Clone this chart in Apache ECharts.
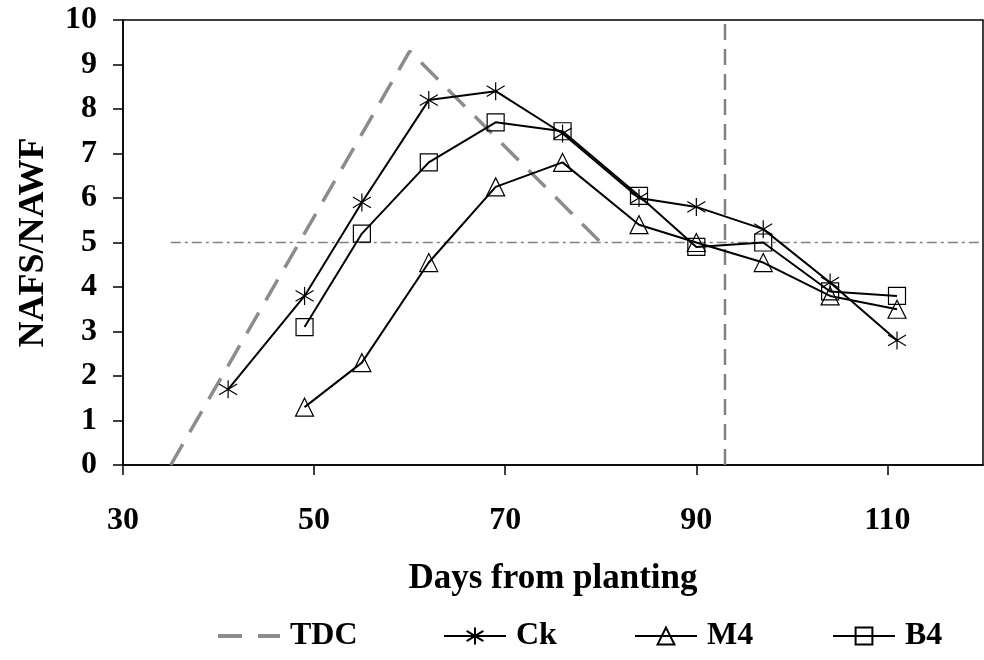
<!DOCTYPE html>
<html>
<head>
<meta charset="utf-8">
<script src="https://cdn.jsdelivr.net/npm/echarts@6/dist/echarts.min.js"></script>
<style>html,body{margin:0;padding:0;background:#fff}#c{width:984px;height:660px}</style>
</head>
<body>
<div id="c"></div>
<script>
// ---- data ----
const days = [41, 49, 55, 62, 69, 76, 84, 90, 97, 104, 111];
const ckValues = [1.7, 3.8, 5.9, 8.2, 8.4, 7.45, 6.0, 5.8, 5.3, 4.1, 2.8];
const treatDays = [49, 55, 62, 69, 76, 84, 90, 97, 104, 111];
const m4Values = [1.3, 2.3, 4.55, 6.25, 6.8, 5.4, 5.0, 4.55, 3.8, 3.5];
const b4Values = [3.1, 5.2, 6.8, 7.7, 7.5, 6.05, 4.9, 5.0, 3.9, 3.8];
const tdcDays = [35, 60, 80];
const tdcValues = [0, 9.3, 5];
const vRefDays = [93, 93];
const vRefValues = [0, 10];
const hRefDays = [35, 120];
const hRefValues = [5, 5];
const xTicks = [30, 50, 70, 90, 110];
const yTicks = [0, 1, 2, 3, 4, 5, 6, 7, 8, 9, 10];

const zip = (xs, ys) => xs.map((x, i) => [x, ys[i]]);
const FONT = "'Liberation Serif','Times New Roman',serif";
const starPath = 'path://M0,-10 L0,10 M-9,-6 L9,6 M-9,6 L9,-6';
const hollow = { color: 'rgba(255,255,255,0)', borderColor: '#000', borderWidth: 1.2 };
const dashIcon = 'path://M0,0 L24,0 L24,4 L0,4 Z M40,0 L62,0 L62,4 L40,4 Z';

const chart = echarts.init(document.getElementById('c'), null, { renderer: 'canvas' });
const legendBase = {
  orient: 'horizontal', top: 620, itemWidth: 62, itemHeight: 21, itemGap: 0, padding: 0,
  lineStyle: { width: 2 },
  textStyle: { fontFamily: FONT, fontWeight: 'bold', fontSize: 32, color: '#000', padding: [0, 0, 0, 5] }
};
chart.setOption({
  animation: false,
  backgroundColor: '#fff',
  grid: { left: 123, top: 20, right: 1, bottom: 195, show: true, borderColor: '#000', borderWidth: 1.5, backgroundColor: 'transparent' },
  legend: [
    Object.assign({}, legendBase, { left: 218, itemHeight: 4, data: [{ name: 'TDC', icon: dashIcon, itemStyle: { color: '#8c8c8c', borderWidth: 0 } }] }),
    Object.assign({}, legendBase, { left: 443, data: ['Ck'] }),
    Object.assign({}, legendBase, { left: 634, data: ['M4'] }),
    Object.assign({}, legendBase, { left: 832, data: ['B4'] })
  ],
  xAxis: {
    type: 'value', min: xTicks[0], max: 120, interval: 20,
    name: 'Days from planting', nameLocation: 'middle', nameGap: 96,
    nameTextStyle: { fontFamily: FONT, fontWeight: 'bold', fontSize: 35, color: '#000' },
    axisLine: { show: true, onZero: false, lineStyle: { color: '#000', width: 1.5 } },
    axisTick: { show: true, inside: false, length: 10, customValues: xTicks, lineStyle: { color: '#000', width: 1.5 } },
    axisLabel: { margin: 40, fontFamily: FONT, fontWeight: 'bold', fontSize: 32, color: '#000', customValues: xTicks,
      formatter: v => (xTicks.indexOf(v) >= 0 ? String(v) : '') },
    splitLine: { show: false }
  },
  yAxis: {
    type: 'value', min: yTicks[0], max: yTicks[yTicks.length - 1], interval: 1,
    name: 'NAFS/NAWF', nameLocation: 'middle', nameGap: 71,
    nameTextStyle: { fontFamily: FONT, fontWeight: 'bold', fontSize: 36, color: '#000' },
    axisLine: { show: true, lineStyle: { color: '#000', width: 1.5 } },
    axisTick: { show: true, inside: false, length: 10, lineStyle: { color: '#000', width: 1.5 } },
    axisLabel: { margin: 26, fontFamily: FONT, fontWeight: 'bold', fontSize: 32, color: '#000' },
    splitLine: { show: false }
  },
  series: [
    { name: 'hRef', type: 'line', data: zip(hRefDays, hRefValues), symbol: 'none', silent: true,
      lineStyle: { color: '#808080', width: 1.3, type: [10, 4, 3, 4] }, z: 1 },
    { name: 'vRef', type: 'line', data: zip(vRefDays, vRefValues), symbol: 'none', silent: true,
      lineStyle: { color: '#808080', width: 2.5, type: [16, 9] }, z: 1 },
    { name: 'TDC', type: 'line', data: zip(tdcDays, tdcValues), symbol: 'none',
      lineStyle: { color: '#8c8c8c', width: 3.5, type: [24, 14] },
      itemStyle: { color: '#8c8c8c' }, z: 2 },
    { name: 'Ck', type: 'line', data: zip(days, ckValues), symbol: starPath, symbolSize: 18,
      lineStyle: { color: '#000', width: 2 }, itemStyle: hollow, z: 3 },
    { name: 'M4', type: 'line', data: zip(treatDays, m4Values), symbol: 'triangle', symbolSize: 18,
      lineStyle: { color: '#000', width: 2 }, itemStyle: hollow, z: 3 },
    { name: 'B4', type: 'line', data: zip(treatDays, b4Values), symbol: 'rect', symbolSize: 17,
      lineStyle: { color: '#000', width: 2 }, itemStyle: hollow, z: 3 }
  ]
});
</script>
</body>
</html>
